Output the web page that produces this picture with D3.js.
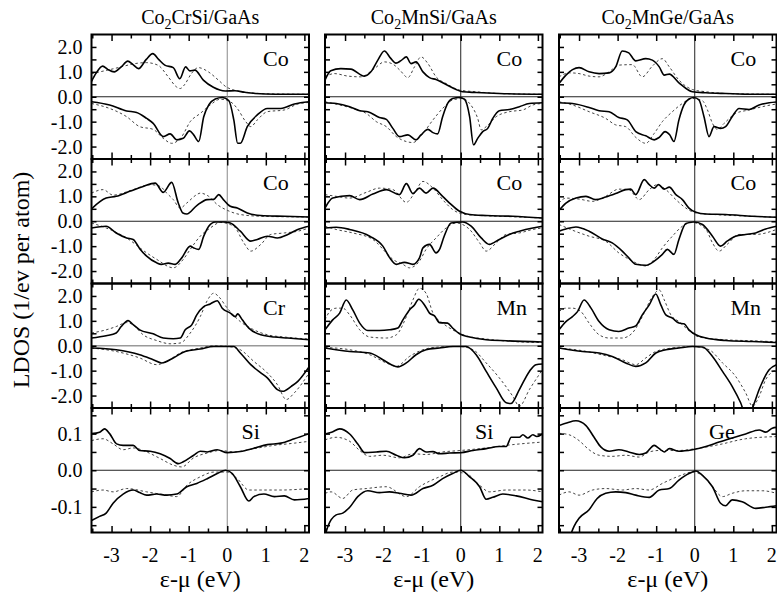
<!DOCTYPE html>
<html><head><meta charset="utf-8">
<script src="https://cdn.jsdelivr.net/npm/d3@7"></script>
<style>body{margin:0;background:#fff}svg{display:block}text{font-family:"Liberation Serif","Times New Roman",serif;fill:#000}</style>
</head><body><svg id="c" width="777" height="595"></svg>
<script>
// ---------- labels & ticks ----------
const titleMain = ["Co", "Co", "Co"];
const titleSub = ["2", "2", "2"];
const titleRest = ["CrSi/GaAs", "MnSi/GaAs", "MnGe/GaAs"];
const elements = [["Co", "Co", "Cr", "Si"], ["Co", "Co", "Mn", "Si"], ["Co", "Co", "Mn", "Ge"]];
const xMajor = [-3, -2, -1, 0, 1, 2];
const xMinor = [-3.5, -2.5, -1.5, -0.5, 0.5, 1.5];
const xTickLabels = ["-3", "-2", "-1", "0", "1", "2"];
const yMajorBig = [-2, -1, 0, 1, 2];
const yMinorBig = [-1.5, -0.5, 0.5, 1.5];
const yLabelsBig = ["-2.0", "-1.0", "0.0", "1.0", "2.0"];
const yMajorSmall = [-0.1, 0, 0.1];
const yMinorSmall = [-0.15, -0.05, 0.05, 0.15];
const yLabelsSmall = ["-0.1", "0.0", "0.1"];
const xLabel = "ε-μ (eV)";
const yLabel = "LDOS (1/ev per atom)";

// ---------- data: [energy, LDOS]; minority spin plotted negative ----------
// column 1: Co2CrSi/GaAs
const c1r1Up = [[-3.52,0.62],[-3.4,0.95],[-3.23,1.23],[-3.1,1.1],[-2.93,1.0],[-2.75,1.2],[-2.58,1.43],[-2.45,1.3],[-2.3,1.13],[-2.1,1.5],[-1.93,1.73],[-1.78,1.5],[-1.62,1.27],[-1.4,1.17],[-1.23,0.72],[-1.08,1.2],[-0.97,1.04],[-0.84,1.07],[-0.62,0.67],[-0.36,0.38],[-0.05,0.23],[0.2,0.24],[0.45,0.18],[0.73,0.13],[1.25,0.1],[2.12,0.1]];
const c1r1UpD = [[-3.52,0.93],[-3.1,1.07],[-2.75,1.2],[-2.4,1.33],[-2.1,1.37],[-1.8,1.27],[-1.53,0.8],[-1.32,0.4],[-1.22,0.33],[-1.1,0.5],[-0.93,0.93],[-0.75,1.17],[-0.49,1.0],[-0.23,0.67],[0,0.37],[0.5,0.18],[1.0,0.12],[2.12,0.1]];
const c1r1Dn = [[-3.52,-0.2],[-3.05,-0.33],[-2.61,-0.57],[-2.35,-0.63],[-2.09,-0.87],[-1.92,-1.07],[-1.66,-1.6],[-1.48,-1.49],[-1.31,-1.73],[-1.14,-1.67],[-0.98,-1.37],[-0.87,-1.53],[-0.74,-1.8],[-0.61,-0.8],[-0.48,-0.33],[-0.31,-0.09],[-0.13,-0.03],[0.04,-0.15],[0.17,-0.93],[0.27,-1.87],[0.34,-1.87],[0.52,-1.2],[0.78,-0.73],[1.04,-0.47],[1.39,-0.47],[1.74,-0.29],[2.12,-0.2]];
const c1r1DnD = [[-3.52,-0.27],[-3.05,-0.47],[-2.61,-0.8],[-2.27,-1.2],[-1.92,-1.31],[-1.66,-1.67],[-1.44,-1.87],[-1.18,-1.6],[-0.96,-1.0],[-0.7,-0.67],[-0.44,-0.33],[-0.18,-0.1],[0.08,-0.2],[0.26,-0.47],[0.48,-1.0],[0.61,-1.2],[0.78,-0.93],[1.04,-0.6],[1.48,-0.53],[1.83,-0.29],[2.12,-0.23]];
const c1r2Up = [[-3.52,0.5],[-3.14,0.93],[-2.88,1.0],[-2.53,1.2],[-2.18,1.4],[-1.87,1.53],[-1.66,1.16],[-1.44,1.56],[-1.27,0.73],[-1.15,0.33],[-1.05,0.29],[-0.79,0.63],[-0.52,0.87],[-0.35,0.88],[-0.22,1.07],[-0.1,0.87],[0.08,0.6],[0.26,0.53],[0.52,0.33],[0.87,0.23],[1.48,0.2],[2.12,0.17]];
const c1r2UpD = [[-3.52,1.13],[-3.22,1.27],[-2.96,1.05],[-2.44,1.27],[-2.0,1.47],[-1.74,1.4],[-1.57,1.13],[-1.4,0.87],[-1.22,0.53],[-1.05,0.73],[-0.79,1.07],[-0.7,1.13],[-0.48,1.0],[-0.26,0.67],[0,0.44],[0.34,0.27],[0.87,0.2],[1.5,0.18],[2.12,0.17]];
const c1r2Dn = [[-3.52,-0.27],[-3.14,-0.2],[-2.88,-0.47],[-2.61,-0.67],[-2.44,-0.73],[-2.27,-1.1],[-2.09,-1.4],[-1.83,-1.67],[-1.71,-1.73],[-1.53,-1.68],[-1.35,-1.73],[-1.18,-1.47],[-0.96,-1.0],[-0.87,-1.07],[-0.74,-1.13],[-0.61,-0.6],[-0.48,-0.2],[-0.31,-0.03],[-0.1,-0.03],[0.08,-0.07],[0.34,-0.4],[0.61,-0.8],[0.78,-0.73],[1.04,-0.6],[1.3,-0.67],[1.57,-0.53],[1.83,-0.33],[2.12,-0.2]];
const c1r2DnD = [[-3.52,-0.07],[-3.14,-0.27],[-2.61,-0.67],[-2.09,-1.27],[-1.83,-1.53],[-1.4,-1.87],[-1.14,-1.53],[-0.96,-1.13],[-0.7,-0.6],[-0.44,-0.27],[-0.18,-0.05],[0.17,-0.2],[0.43,-0.87],[0.61,-1.2],[0.87,-0.93],[1.13,-0.53],[1.48,-0.47],[1.83,-0.4],[2.12,-0.27]];
const c1r3Up = [[-3.52,0.31],[-3.14,0.4],[-2.88,0.51],[-2.75,0.77],[-2.57,1.01],[-2.44,0.85],[-2.27,0.64],[-1.92,0.48],[-1.66,0.31],[-1.4,0.28],[-1.22,0.31],[-1.09,0.64],[-0.92,0.84],[-0.79,1.24],[-0.61,1.57],[-0.44,1.68],[-0.26,1.81],[-0.13,1.51],[0.08,1.31],[0.21,1.17],[0.27,1.28],[0.39,1.04],[0.56,0.71],[0.87,0.44],[1.22,0.35],[1.57,0.31],[2.12,0.24]];
const c1r3UpD = [[-3.52,0.51],[-3.14,0.64],[-2.88,0.77],[-2.61,0.93],[-2.44,0.84],[-2.18,0.44],[-1.83,0.21],[-1.48,0.08],[-1.22,0.11],[-0.96,0.51],[-0.7,1.17],[-0.52,1.81],[-0.35,2.11],[-0.22,1.97],[0,1.51],[0.34,0.97],[0.69,0.64],[1.04,0.44],[1.48,0.35],[2.12,0.27]];
const c1r3Dn = [[-3.52,-0.09],[-2.88,-0.16],[-2.27,-0.36],[-1.92,-0.56],[-1.7,-0.69],[-1.4,-0.49],[-1.09,-0.23],[-0.7,-0.13],[-0.35,-0.03],[0.17,-0.03],[0.34,-0.29],[0.61,-0.76],[0.87,-1.09],[1.04,-1.29],[1.3,-1.76],[1.44,-1.83],[1.66,-1.63],[1.83,-1.43],[2.12,-0.85]];
const c1r3DnD = [[-3.52,-0.09],[-2.88,-0.23],[-2.27,-0.49],[-1.83,-0.76],[-1.57,-0.63],[-1.22,-0.29],[-0.7,-0.09],[-0.35,0],[0.08,-0.04],[0.34,-0.16],[0.69,-0.63],[1.04,-1.09],[1.3,-1.56],[1.53,-2.16],[1.74,-1.89],[2.12,-1.1]];
const c1r4Up = [[-3.52,0.1],[-3.31,0.104],[-3.18,0.113],[-3.05,0.1],[-2.87,0.072],[-2.7,0.068],[-2.44,0.068],[-2.27,0.054],[-2.0,0.052],[-1.74,0.045],[-1.48,0.032],[-1.27,0.018],[-1.14,0.023],[-0.87,0.041],[-0.7,0.052],[-0.52,0.05],[-0.26,0.056],[0,0.048],[0.34,0.051],[0.69,0.06],[1.04,0.07],[1.39,0.074],[1.74,0.086],[2.12,0.1]];
const c1r4UpD = [[-3.52,0.081],[-3.22,0.086],[-2.96,0.072],[-2.7,0.056],[-2.44,0.061],[-2.09,0.05],[-1.74,0.032],[-1.4,0.014],[-1.18,0.009],[-0.87,0.034],[-0.52,0.047],[-0.18,0.054],[0.17,0.05],[0.69,0.059],[1.22,0.068],[1.74,0.074],[2.12,0.079]];
const c1r4Dn = [[-3.52,-0.137],[-3.31,-0.126],[-3.14,-0.117],[-2.96,-0.09],[-2.7,-0.065],[-2.44,-0.054],[-2.27,-0.061],[-2.09,-0.068],[-1.83,-0.065],[-1.57,-0.068],[-1.31,-0.065],[-1.05,-0.045],[-0.79,-0.036],[-0.52,-0.023],[-0.26,-0.009],[-0.04,0],[0.13,-0.009],[0.34,-0.045],[0.56,-0.084],[0.69,-0.072],[0.95,-0.065],[1.22,-0.072],[1.48,-0.07],[1.74,-0.081],[2.12,-0.077]];
const c1r4DnD = [[-3.52,-0.059],[-3.22,-0.054],[-2.96,-0.059],[-2.61,-0.05],[-2.09,-0.059],[-1.57,-0.068],[-1.31,-0.072],[-1.05,-0.041],[-0.7,-0.018],[-0.35,-0.005],[0,-0.005],[0.26,-0.023],[0.56,-0.054],[0.87,-0.054],[1.39,-0.054],[2.12,-0.05]];
// column 2: Co2MnSi/GaAs
const c2r1Up = [[-3.52,0.67],[-3.37,1.04],[-3.11,1.13],[-2.85,1.11],[-2.5,0.83],[-2.33,1.0],[-2.15,1.47],[-1.98,1.84],[-1.82,1.55],[-1.68,1.35],[-1.55,1.45],[-1.41,1.6],[-1.29,1.33],[-1.16,1.4],[-0.98,1.0],[-0.81,0.77],[-0.64,0.69],[-0.38,0.49],[-0.12,0.29],[0.05,0.2],[0.4,0.17],[1.0,0.13],[2.12,0.1]];
const c2r1UpD = [[-3.52,0.8],[-3.28,0.93],[-2.93,0.83],[-2.59,0.8],[-2.24,1.13],[-1.98,1.4],[-1.75,1.3],[-1.58,1.07],[-1.37,0.77],[-1.2,1.2],[-1.03,1.6],[-0.85,1.33],[-0.64,0.8],[-0.38,0.53],[-0.03,0.27],[0.4,0.2],[1.0,0.13],[2.12,0.1]];
const c2r1Dn = [[-3.52,-0.24],[-3.23,-0.27],[-2.88,-0.4],[-2.62,-0.56],[-2.41,-0.6],[-2.11,-0.83],[-1.93,-0.91],[-1.76,-1.27],[-1.59,-1.6],[-1.37,-1.53],[-1.16,-1.73],[-1.03,-1.53],[-0.85,-1.31],[-0.72,-1.44],[-0.6,-1.49],[-0.47,-0.8],[-0.34,-0.27],[-0.21,-0.07],[-0.03,-0.03],[0.1,-0.11],[0.23,-0.8],[0.33,-1.93],[0.44,-1.67],[0.57,-1.4],[0.7,-1.27],[0.83,-0.87],[1.0,-0.56],[1.26,-0.51],[1.52,-0.4],[1.78,-0.27],[2.12,-0.24]];
const c2r1DnD = [[-3.52,-0.2],[-3.14,-0.33],[-2.8,-0.47],[-2.45,-0.67],[-2.19,-1.0],[-1.93,-1.2],[-1.67,-1.6],[-1.41,-1.8],[-1.24,-1.84],[-0.98,-1.47],[-0.72,-0.93],[-0.47,-0.47],[-0.21,-0.13],[0.05,-0.07],[0.23,-0.27],[0.44,-0.87],[0.53,-1.33],[0.66,-1.2],[0.92,-0.8],[1.26,-0.6],[1.61,-0.53],[1.87,-0.33],[2.12,-0.27]];
const c2r2Up = [[-3.52,0.53],[-3.32,0.93],[-2.88,1.03],[-2.62,0.87],[-2.28,1.09],[-1.93,1.27],[-1.59,1.07],[-1.41,1.51],[-1.24,1.11],[-1.07,1.33],[-0.9,1.13],[-0.72,1.33],[-0.47,1.0],[-0.29,0.73],[-0.03,0.4],[0.23,0.27],[0.66,0.23],[1.35,0.2],[2.12,0.13]];
const c2r2UpD = [[-3.52,1.07],[-3.23,1.0],[-2.88,0.93],[-2.45,1.16],[-2.11,1.33],[-1.76,1.27],[-1.41,0.76],[-1.2,1.13],[-0.98,1.6],[-0.72,1.33],[-0.47,0.87],[-0.21,0.47],[0.14,0.27],[0.66,0.22],[1.35,0.18],[2.12,0.13]];
const c2r2Dn = [[-3.52,-0.27],[-3.23,-0.24],[-2.88,-0.33],[-2.36,-0.6],[-2.02,-1.0],[-1.85,-1.45],[-1.67,-1.73],[-1.46,-1.65],[-1.24,-1.73],[-1.07,-1.47],[-0.98,-1.07],[-0.81,-0.93],[-0.64,-1.27],[-0.55,-1.13],[-0.43,-0.6],[-0.25,-0.07],[0.05,-0.03],[0.27,-0.2],[0.53,-0.67],[0.74,-0.93],[1.0,-0.73],[1.26,-0.53],[1.52,-0.4],[1.87,-0.27],[2.12,-0.2]];
const c2r2DnD = [[-3.52,-0.2],[-3.23,-0.33],[-2.8,-0.47],[-2.28,-0.73],[-1.93,-1.27],[-1.76,-1.53],[-1.5,-1.73],[-1.33,-1.87],[-1.07,-1.6],[-0.9,-1.13],[-0.64,-0.67],[-0.38,-0.27],[-0.12,-0.07],[0.23,-0.33],[0.49,-0.87],[0.66,-1.2],[0.92,-0.87],[1.18,-0.53],[1.52,-0.47],[1.87,-0.33],[2.12,-0.27]];
const c2r3Up = [[-3.52,0.64],[-3.32,1.04],[-3.14,1.31],[-2.97,1.84],[-2.8,1.44],[-2.62,0.91],[-2.41,0.61],[-2.11,0.61],[-1.85,0.64],[-1.63,0.71],[-1.5,1.04],[-1.33,1.44],[-1.2,1.64],[-1.09,1.87],[-0.94,1.64],[-0.81,1.31],[-0.68,1.2],[-0.55,0.93],[-0.34,0.91],[-0.21,0.71],[-0.03,0.48],[0.23,0.35],[0.66,0.24],[1.18,0.2],[2.12,0.15]];
const c2r3UpD = [[-3.52,1.04],[-3.4,1.37],[-3.23,1.51],[-3.06,1.51],[-2.88,1.24],[-2.62,0.64],[-2.36,0.35],[-1.93,0.31],[-1.67,0.44],[-1.41,1.17],[-1.24,1.84],[-1.07,2.31],[-0.9,2.11],[-0.72,1.31],[-0.47,0.91],[-0.21,0.64],[0.14,0.4],[0.66,0.27],[1.35,0.17],[2.12,0.13]];
const c2r3Dn = [[-3.52,-0.09],[-2.88,-0.23],[-2.36,-0.29],[-2.02,-0.56],[-1.8,-0.76],[-1.63,-0.85],[-1.41,-0.69],[-1.16,-0.36],[-0.9,-0.16],[-0.55,-0.09],[-0.21,-0.03],[0.14,-0.03],[0.4,-0.36],[0.66,-1.03],[0.92,-1.69],[1.18,-2.29],[1.3,-2.32],[1.52,-1.76],[1.78,-1.03],[1.95,-0.76],[2.12,-0.73]];
const c2r3DnD = [[-3.52,-0.07],[-2.88,-0.16],[-2.36,-0.36],[-1.93,-0.69],[-1.67,-0.83],[-1.33,-0.43],[-0.98,-0.16],[-0.55,-0.05],[-0.03,-0.03],[0.32,-0.16],[0.66,-0.69],[1.0,-1.29],[1.35,-2.03],[1.52,-2.43],[1.78,-1.76],[2.12,-0.96]];
const c2r4Up = [[-3.52,0.099],[-3.35,0.104],[-3.14,0.113],[-2.88,0.099],[-2.67,0.072],[-2.49,0.048],[-2.19,0.05],[-1.93,0.052],[-1.67,0.041],[-1.46,0.034],[-1.24,0.041],[-1.07,0.059],[-0.9,0.05],[-0.72,0.051],[-0.55,0.045],[-0.29,0.047],[0,0.048],[0.32,0.054],[0.66,0.059],[1.0,0.065],[1.18,0.065],[1.31,0.09],[1.52,0.09],[1.61,0.097],[1.74,0.088],[1.87,0.097],[1.97,0.092],[2.12,0.099]];
const c2r4UpD = [[-3.52,0.083],[-3.23,0.09],[-2.88,0.079],[-2.62,0.054],[-2.36,0.038],[-2.02,0.041],[-1.59,0.034],[-1.24,0.045],[-0.9,0.043],[-0.47,0.05],[0,0.054],[0.66,0.061],[1.35,0.07],[2.12,0.077]];
const c2r4Dn = [[-3.52,-0.18],[-3.45,-0.155],[-3.36,-0.135],[-3.23,-0.122],[-3.06,-0.117],[-2.88,-0.101],[-2.67,-0.072],[-2.41,-0.056],[-2.11,-0.061],[-1.85,-0.059],[-1.59,-0.063],[-1.29,-0.068],[-0.98,-0.05],[-0.72,-0.041],[-0.47,-0.023],[-0.21,-0.009],[0,0],[0.23,-0.018],[0.49,-0.045],[0.66,-0.079],[0.83,-0.074],[1.09,-0.065],[1.44,-0.07],[1.87,-0.081],[2.12,-0.086]];
const c2r4DnD = [[-3.52,-0.063],[-3.36,-0.059],[-3.06,-0.077],[-2.8,-0.054],[-2.45,-0.05],[-1.93,-0.045],[-1.41,-0.072],[-1.07,-0.045],[-0.55,-0.018],[-0.21,-0.005],[0.14,-0.009],[0.49,-0.041],[0.74,-0.059],[1.18,-0.054],[1.69,-0.054],[2.12,-0.059]];
// column 3: Co2MnGe/GaAs
const c3r1Up = [[-3.52,0.53],[-3.34,0.87],[-3.17,1.09],[-3.0,1.17],[-2.74,1.0],[-2.48,0.93],[-2.22,0.96],[-2.05,1.2],[-1.88,1.84],[-1.71,1.76],[-1.53,1.44],[-1.27,1.53],[-1.1,1.47],[-0.92,1.2],[-0.79,0.87],[-0.66,0.91],[-0.41,0.56],[-0.06,0.2],[0.29,0.16],[0.81,0.13],[1.5,0.1],[2.12,0.1]];
const c3r1UpD = [[-3.52,0.8],[-3.25,0.96],[-3.0,0.93],[-2.74,0.83],[-2.48,0.8],[-2.22,1.0],[-1.97,1.27],[-1.62,1.29],[-1.36,0.8],[-1.1,1.23],[-0.84,1.53],[-0.66,1.2],[-0.41,0.67],[-0.06,0.29],[0.29,0.2],[0.81,0.13],[1.5,0.11],[2.12,0.1]];
const c3r1Dn = [[-3.52,-0.24],[-3.17,-0.27],[-2.74,-0.43],[-2.48,-0.56],[-2.22,-0.6],[-1.97,-0.83],[-1.75,-0.93],[-1.53,-1.4],[-1.27,-1.57],[-1.05,-1.73],[-0.92,-1.63],[-0.77,-1.4],[-0.65,-1.53],[-0.54,-1.8],[-0.41,-0.93],[-0.28,-0.33],[-0.15,-0.09],[-0.02,-0.03],[0.11,-0.13],[0.24,-0.8],[0.37,-1.6],[0.5,-1.2],[0.67,-1.27],[0.8,-1.2],[0.97,-0.8],[1.15,-0.47],[1.41,-0.51],[1.67,-0.33],[1.93,-0.24],[2.12,-0.21]];
const c3r1DnD = [[-3.52,-0.2],[-3.17,-0.33],[-2.74,-0.6],[-2.31,-0.87],[-2.05,-1.13],[-1.79,-1.2],[-1.53,-1.63],[-1.27,-1.87],[-1.05,-1.47],[-0.84,-1.0],[-0.58,-0.6],[-0.32,-0.27],[-0.06,-0.07],[0.2,-0.16],[0.33,-0.53],[0.46,-1.07],[0.59,-1.31],[0.76,-1.07],[1.06,-0.67],[1.41,-0.53],[1.84,-0.37],[2.12,-0.29]];
const c3r2Up = [[-3.52,0.44],[-3.34,0.73],[-3.08,0.93],[-2.82,1.0],[-2.57,0.87],[-2.31,0.97],[-2.05,1.11],[-1.79,1.27],[-1.66,1.29],[-1.53,1.07],[-1.31,1.67],[-1.18,1.47],[-1.05,1.33],[-0.94,1.47],[-0.79,1.29],[-0.66,1.37],[-0.49,1.07],[-0.32,0.87],[-0.15,0.53],[0.03,0.36],[0.29,0.29],[0.8,0.27],[1.5,0.2],[2.12,0.16]];
const c3r2UpD = [[-3.52,0.73],[-3.34,0.93],[-3.0,0.89],[-2.65,0.8],[-2.31,1.0],[-1.97,1.29],[-1.71,1.27],[-1.44,0.87],[-1.18,1.27],[-0.97,1.47],[-0.75,1.27],[-0.49,0.87],[-0.23,0.53],[0.03,0.33],[0.5,0.27],[1.5,0.2],[2.12,0.16]];
const c3r2Dn = [[-3.52,-0.4],[-3.34,-0.31],[-3.08,-0.23],[-2.74,-0.4],[-2.4,-0.71],[-2.14,-0.87],[-1.88,-1.2],[-1.71,-1.47],[-1.53,-1.73],[-1.27,-1.77],[-1.05,-1.6],[-0.84,-1.33],[-0.71,-1.13],[-0.54,-1.33],[-0.41,-0.73],[-0.23,-0.09],[-0.02,-0.03],[0.2,-0.13],[0.46,-0.6],[0.67,-1.0],[0.84,-0.8],[1.06,-0.6],[1.32,-0.53],[1.58,-0.47],[1.84,-0.31],[2.12,-0.2]];
const c3r2DnD = [[-3.52,-0.13],[-3.17,-0.36],[-2.74,-0.6],[-2.31,-0.8],[-1.97,-1.27],[-1.7,-1.53],[-1.44,-1.73],[-1.27,-1.8],[-1.05,-1.53],[-0.84,-1.07],[-0.58,-0.6],[-0.32,-0.2],[-0.06,-0.05],[0.29,-0.33],[0.46,-0.87],[0.63,-1.2],[0.84,-0.93],[1.15,-0.53],[1.58,-0.53],[2.12,-0.33]];
const c3r3Up = [[-3.52,0.64],[-3.34,0.97],[-3.17,1.17],[-3.04,1.37],[-2.87,1.84],[-2.69,1.51],[-2.48,0.97],[-2.22,0.64],[-1.97,0.57],[-1.71,0.71],[-1.53,0.8],[-1.36,1.24],[-1.18,1.64],[-1.01,2.08],[-0.88,1.64],[-0.75,1.24],[-0.58,1.11],[-0.41,0.91],[-0.28,0.88],[-0.15,0.64],[0.03,0.44],[0.29,0.31],[0.8,0.21],[1.5,0.17],[2.12,0.13]];
const c3r3UpD = [[-3.52,1.37],[-3.34,1.51],[-3.17,1.51],[-2.95,1.37],[-2.74,0.91],[-2.48,0.44],[-2.22,0.31],[-1.88,0.31],[-1.62,0.51],[-1.36,1.17],[-1.1,1.97],[-0.92,2.24],[-0.79,1.84],[-0.62,1.24],[-0.41,0.97],[-0.15,0.61],[0.11,0.35],[0.8,0.24],[1.5,0.2],[2.12,0.16]];
const c3r3Dn = [[-3.52,-0.09],[-2.91,-0.23],[-2.48,-0.29],[-2.14,-0.43],[-1.79,-0.69],[-1.53,-0.83],[-1.27,-0.69],[-1.01,-0.29],[-0.75,-0.16],[-0.41,-0.09],[-0.06,-0.03],[0.2,-0.05],[0.46,-0.43],[0.72,-1.03],[0.97,-1.63],[1.19,-2.29],[1.3,-2.7],[1.42,-2.75],[1.52,-2.4],[1.67,-1.76],[1.93,-0.96],[2.12,-0.76]];
const c3r3DnD = [[-3.52,-0.09],[-2.91,-0.2],[-2.31,-0.4],[-1.88,-0.56],[-1.53,-0.76],[-1.27,-0.49],[-1.01,-0.23],[-0.58,-0.09],[-0.06,-0.03],[0.37,-0.16],[0.72,-0.69],[1.06,-1.23],[1.32,-1.89],[1.5,-2.43],[1.67,-2.03],[1.84,-1.36],[2.12,-0.96]];
const c3r4Up = [[-3.52,0.122],[-3.3,0.13],[-3.08,0.135],[-2.82,0.122],[-2.61,0.09],[-2.43,0.063],[-2.22,0.052],[-1.97,0.056],[-1.71,0.05],[-1.44,0.043],[-1.27,0.047],[-1.05,0.068],[-0.92,0.059],[-0.79,0.05],[-0.66,0.059],[-0.41,0.052],[-0.06,0.056],[0.29,0.065],[0.63,0.077],[0.97,0.088],[1.32,0.099],[1.67,0.11],[1.84,0.104],[2.01,0.115],[2.12,0.117]];
const c3r4UpD = [[-3.52,0.101],[-3.26,0.097],[-3.0,0.081],[-2.74,0.056],[-2.48,0.041],[-2.14,0.038],[-1.79,0.041],[-1.44,0.036],[-1.18,0.05],[-0.92,0.054],[-0.41,0.054],[0.03,0.059],[0.63,0.07],[1.32,0.086],[2.12,0.092]];
const c3r4Dn = [[-3.52,-0.26],[-3.3,-0.2],[-3.13,-0.153],[-3.0,-0.131],[-2.74,-0.108],[-2.53,-0.077],[-2.31,-0.063],[-2.05,-0.059],[-1.79,-0.061],[-1.53,-0.068],[-1.18,-0.074],[-0.92,-0.054],[-0.66,-0.05],[-0.41,-0.027],[-0.15,-0.009],[0.03,-0.002],[0.2,-0.014],[0.46,-0.045],[0.67,-0.09],[0.8,-0.097],[0.97,-0.081],[1.23,-0.086],[1.58,-0.104],[1.84,-0.101],[2.12,-0.097]];
const c3r4DnD = [[-3.52,-0.068],[-3.26,-0.059],[-3.0,-0.068],[-2.65,-0.054],[-2.31,-0.05],[-1.88,-0.054],[-1.53,-0.05],[-1.18,-0.054],[-0.84,-0.036],[-0.41,-0.016],[-0.06,-0.005],[0.2,-0.014],[0.46,-0.045],[0.72,-0.072],[0.97,-0.063],[1.32,-0.056],[1.75,-0.056],[2.12,-0.063]];

const panelData = [
  [[c1r1Up,c1r1UpD,c1r1Dn,c1r1DnD],[c1r2Up,c1r2UpD,c1r2Dn,c1r2DnD],[c1r3Up,c1r3UpD,c1r3Dn,c1r3DnD],[c1r4Up,c1r4UpD,c1r4Dn,c1r4DnD]],
  [[c2r1Up,c2r1UpD,c2r1Dn,c2r1DnD],[c2r2Up,c2r2UpD,c2r2Dn,c2r2DnD],[c2r3Up,c2r3UpD,c2r3Dn,c2r3DnD],[c2r4Up,c2r4UpD,c2r4Dn,c2r4DnD]],
  [[c3r1Up,c3r1UpD,c3r1Dn,c3r1DnD],[c3r2Up,c3r2UpD,c3r2Dn,c3r2DnD],[c3r3Up,c3r3UpD,c3r3Dn,c3r3DnD],[c3r4Up,c3r4UpD,c3r4Dn,c3r4DnD]]
];

// ---------- layout ----------
const colLeft = [91.5, 325, 559], colW = 217.5;
const rowTop = [34.5, 159, 283.5, 408], rowH = 124.5;
const xDomain = [-3.52, 2.12];

const svg = d3.select("#c");
const defs = svg.append("defs");

colLeft.forEach((L, ci) => {
  const x = d3.scaleLinear().domain(xDomain).range([L, L + colW]);
  rowTop.forEach((T, ri) => {
    const small = ri === 3;
    const y = d3.scaleLinear().domain(small ? [-0.17, 0.17] : [-2.5, 2.5]).range([T + rowH, T]);
    const g = svg.append("g");
    const cid = `clip${ci}${ri}`;
    defs.append("clipPath").attr("id", cid).append("rect")
      .attr("x", L).attr("y", T).attr("width", colW).attr("height", rowH);
    // reference lines
    g.append("line").attr("x1", L).attr("x2", L + colW).attr("y1", y(0)).attr("y2", y(0))
      .attr("stroke", ri === 2 ? "#999" : "#222").attr("stroke-width", ri === 2 ? 1.4 : 1);
    g.append("line").attr("x1", x(0)).attr("x2", x(0)).attr("y1", T).attr("y2", T + rowH)
      .attr("stroke", ci === 0 ? "#888" : "#222").attr("stroke-width", 1);
    // curves
    const line = d3.line().x(d => x(d[0])).y(d => y(d[1])).curve(d3.curveMonotoneX);
    const [up, upD, dn, dnD] = panelData[ci][ri];
    const cg = g.append("g").attr("clip-path", `url(#${cid})`);
    [upD, dnD].forEach(s => cg.append("path").attr("d", line(s)).attr("fill", "none")
      .attr("stroke", "#444").attr("stroke-width", 1).attr("stroke-dasharray", "2.5,2.5"));
    [up, dn].forEach(s => cg.append("path").attr("d", line(s)).attr("fill", "none")
      .attr("stroke", "#000").attr("stroke-width", 1.6).attr("stroke-linejoin", "round"));
    // ticks (inward on all sides)
    const tickAxis = (axis, tr, vals, len) => {
      const a = g.append("g").attr("transform", tr)
        .call(axis.tickValues(vals).tickSize(-len).tickFormat(""));
      a.select(".domain").remove();
      a.selectAll("line").attr("stroke", "#000").attr("stroke-width", 1.5);
    };
    tickAxis(d3.axisBottom(x), `translate(0,${T + rowH})`, xMajor, 6.5);
    tickAxis(d3.axisBottom(x), `translate(0,${T + rowH})`, xMinor, 4);
    tickAxis(d3.axisTop(x), `translate(0,${T})`, xMajor, 6.5);
    tickAxis(d3.axisTop(x), `translate(0,${T})`, xMinor, 4);
    const yMaj = small ? yMajorSmall : yMajorBig, yMin = small ? yMinorSmall : yMinorBig;
    tickAxis(d3.axisLeft(y), `translate(${L},0)`, yMaj.concat(yMin), 5);
    tickAxis(d3.axisRight(y), `translate(${L + colW},0)`, yMaj.concat(yMin), 5);
    // frame
    g.append("rect").attr("x", L).attr("y", T).attr("width", colW).attr("height", rowH)
      .attr("fill", "none").attr("stroke", "#000").attr("stroke-width", 2);
    // element label
    svg.append("text").attr("x", L + (small ? 150 : 171.5)).attr("y", T + 31)
      .attr("font-size", 22).text(elements[ci][ri]);
    // y tick labels only on the first column
    if (ci === 0) {
      const labs = small ? yLabelsSmall : yLabelsBig;
      yMaj.forEach((v, k) => svg.append("text").attr("x", L - 9).attr("y", y(v) + 7)
        .attr("text-anchor", "end").attr("font-size", 20).text(labs[k]));
    }
  });
  // x tick labels and title
  const B = rowTop[3] + rowH;
  xMajor.forEach((v, k) => svg.append("text").attr("x", x(v)).attr("y", B + 29.5)
    .attr("text-anchor", "middle").attr("font-size", 20).text(xTickLabels[k]));
  svg.append("text").attr("x", L + colW / 2).attr("y", B + 54).attr("text-anchor", "middle")
    .attr("font-size", 24).text(xLabel);
  const t = svg.append("text").attr("x", L + colW / 2).attr("y", 24).attr("text-anchor", "middle")
    .attr("font-size", 20);
  t.append("tspan").text(titleMain[ci]);
  t.append("tspan").attr("font-size", 14).attr("dy", 5).text(titleSub[ci]);
  t.append("tspan").attr("dy", -5).text(titleRest[ci]);
});

svg.append("text").attr("transform", "translate(29,280) rotate(-90)").attr("text-anchor", "middle")
  .attr("font-size", 24).text(yLabel);
</script></body></html>
